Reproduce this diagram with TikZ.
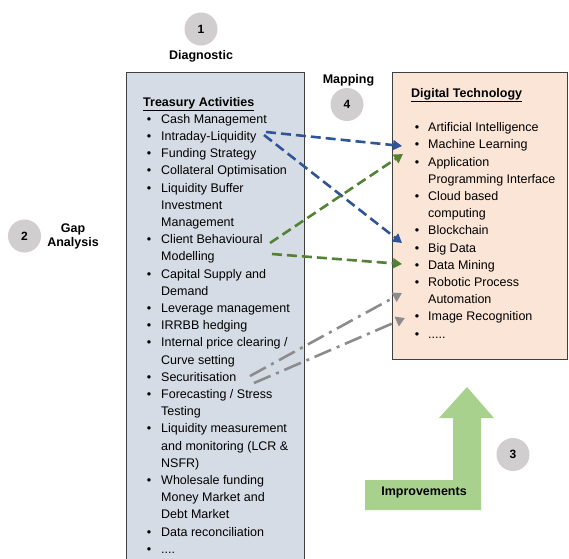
\documentclass[tikz,border=0pt]{standalone}
\usepackage{fontspec}
\setmainfont{Liberation Sans}
\usepackage{enumitem}
\usepackage{xcolor}
\usetikzlibrary{arrows.meta}
\definecolor{badgegray}{HTML}{D0CECE}
\definecolor{activityfill}{HTML}{D6DCE5}
\definecolor{techfill}{HTML}{FBE5D6}
\definecolor{boxline}{HTML}{404040}
\definecolor{mapblue}{HTML}{2F5597}
\definecolor{mapgreen}{HTML}{548235}
\definecolor{mapgray}{HTML}{8C8C8C}
\definecolor{improvegreen}{HTML}{A9D18E}
\setlist[itemize]{label=\textbullet, itemsep=0pt, parsep=0pt, topsep=0pt, partopsep=0pt}
\tikzset{
    activity-box/.style = {draw=boxline, fill=activityfill, line width=1.2pt, rectangle, inner sep=0pt, anchor=north west},
    tech-box/.style = {draw=boxline, fill=techfill, line width=1.2pt, rectangle, inner sep=0pt, anchor=north west},
    box-text/.style = {anchor=base west, inner sep=0pt, font=\fontsize{12.5}{17.2}\selectfont},
    stage-badge/.style = {circle, fill=badgegray, minimum size=33pt, inner sep=0pt, font=\fontsize{12}{14}\selectfont\bfseries},
    stage-label/.style = {align=center, inner sep=0pt, font=\fontsize{12.5}{14}\selectfont\bfseries},
    map-arrow/.style = {line width=2.6pt, -{Triangle[length=9pt, width=10pt]}},
}

\begin{document}
\begin{tikzpicture}[x=1pt, y=-1pt]
\useasboundingbox (0,0) rectangle (569,558);
\clip (0,0) rectangle (569,558);

% boxes
\node[activity-box, minimum width=178pt, minimum height=500pt] (treasury) at (126,72) {};
\node[tech-box, minimum width=175pt, minimum height=287pt] (digitech) at (392,72) {};

\node[box-text] (treasury-list) at (143,106) {\begin{minipage}[t]{175pt}\raggedright
    \underline{\textbf{Treasury Activities}}
    \begin{itemize}[leftmargin=18pt, labelsep=10pt]
        \item Cash Management
        \item Intraday-Liquidity
        \item Funding Strategy
        \item Collateral Optimisation
        \item Liquidity Buffer\newline Investment\newline Management
        \item Client Behavioural\newline Modelling
        \item Capital Supply and\newline Demand
        \item Leverage management
        \item IRRBB hedging
        \item Internal price clearing /\newline Curve setting
        \item Securitisation
        \item Forecasting / Stress\newline Testing
        \item Liquidity measurement\newline and monitoring (LCR \&\newline NSFR)
        \item Wholesale funding\newline Money Market and\newline Debt Market
        \item Data reconciliation
        \item ....
    \end{itemize}
\end{minipage}};

\node[box-text] (tech-list) at (411,97.5) {\begin{minipage}[t]{160pt}\raggedright
    \underline{\textbf{Digital Technology}}
    \begin{itemize}[leftmargin=17pt, labelsep=9pt, topsep=17pt]
        \item Artificial Intelligence
        \item Machine Learning
        \item Application\newline Programming Interface
        \item Cloud based\newline computing
        \item Blockchain
        \item Big Data
        \item Data Mining
        \item Robotic Process\newline Automation
        \item Image Recognition
        \item .....
    \end{itemize}
\end{minipage}};

% stages
\node[stage-badge] (badge-1) at (201,29) {1};
\node[stage-label] (diagnostic) at (201,56) {Diagnostic};
\node[stage-badge] (badge-2) at (24.5,236) {2};
\node[stage-label] (gap) at (73,236) {Gap\\Analysis};
\node[stage-label] (mapping) at (348.5,80) {Mapping};
\node[stage-badge] (badge-4) at (347,104.5) {4};
\node[stage-badge] (badge-3) at (513,454.5) {3};

% improvements arrow
\fill[improvegreen] (365,480) -- (453,480) -- (453,418) -- (439,418) -- (467,387)
    -- (494,418) -- (481,418) -- (481,510) -- (365,510) -- cycle;
\node[stage-label] (improvements) at (424,492) {Improvements};

% mapping ends
\coordinate (intraday-a) at (266,132);
\coordinate (intraday-b) at (264,135);
\coordinate (client-a) at (270,243);
\coordinate (client-b) at (272,254);
\coordinate (secur-a) at (250,376);
\coordinate (secur-b) at (254,383);
\coordinate (ml) at (402,146);
\coordinate (api) at (403,154);
\coordinate (bigdata) at (402,243);
\coordinate (datamining) at (402,264);
\coordinate (rpa) at (402,293);
\coordinate (imagerec) at (405,318);

\draw[map-arrow, mapblue, dash pattern=on 10pt off 5pt] (intraday-a) -- (ml);
\draw[map-arrow, mapblue, dash pattern=on 10pt off 5pt] (intraday-b) -- (bigdata);
\draw[map-arrow, mapgreen, dash pattern=on 10pt off 5pt] (client-a) -- (api);
\draw[map-arrow, mapgreen, dash pattern=on 10pt off 5pt] (client-b) -- (datamining);
\draw[map-arrow, mapgray, dash pattern=on 18pt off 6pt on 3pt off 6pt] (secur-a) -- (rpa);
\draw[map-arrow, mapgray, dash pattern=on 18pt off 6pt on 3pt off 6pt] (secur-b) -- (imagerec);
\end{tikzpicture}
\end{document}
